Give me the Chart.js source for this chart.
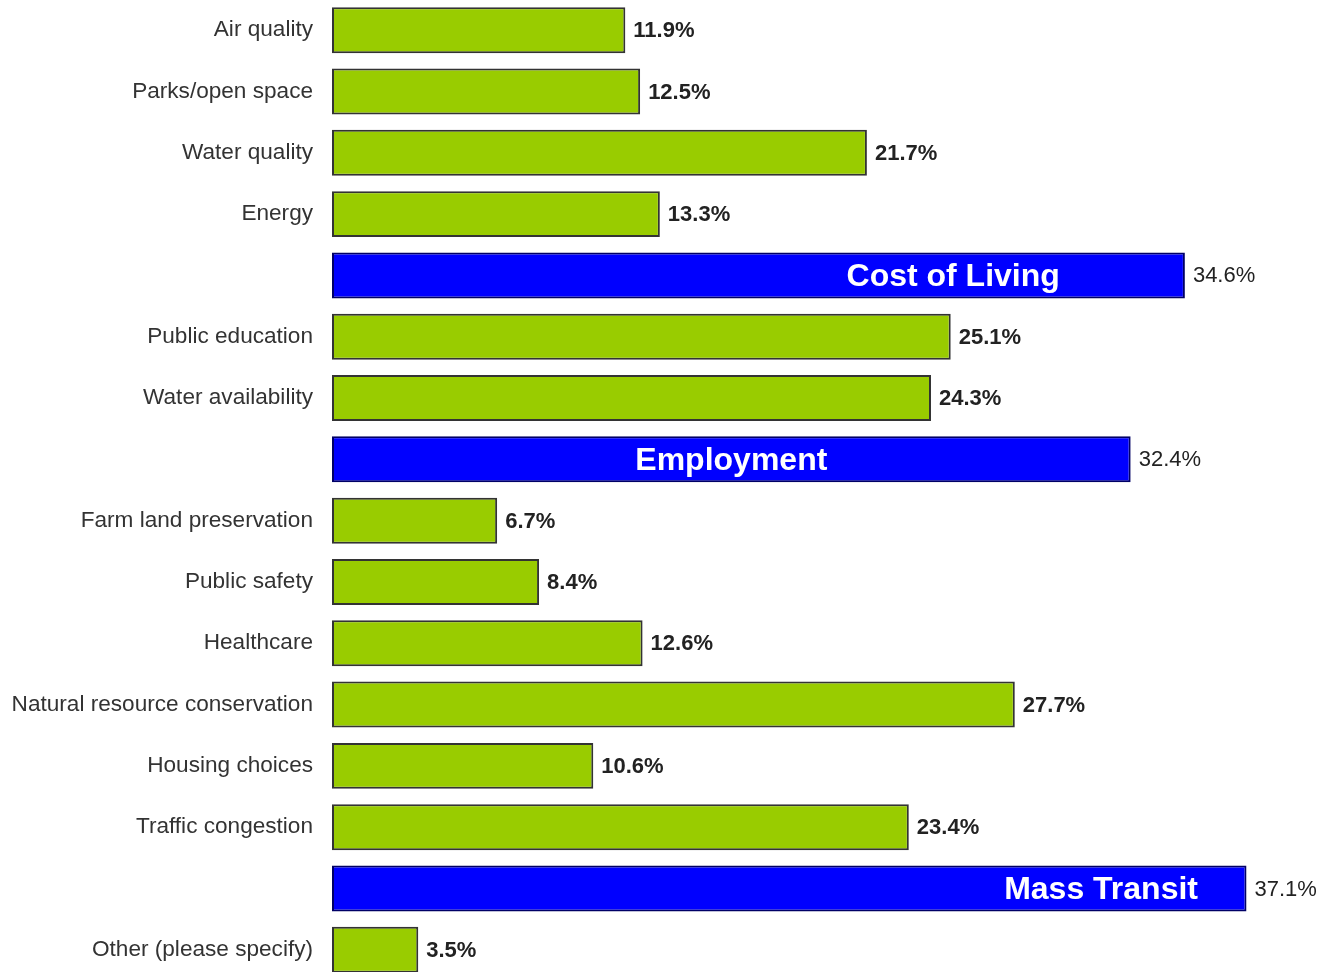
<!DOCTYPE html>
<html>
<head>
<meta charset="utf-8">
<script src="https://cdn.jsdelivr.net/npm/chart.js@4"></script>
<style>
  html, body { margin: 0; padding: 0; background: #fff; overflow: hidden; }
  #wrap { position: absolute; left: 0; top: -33px; width: 1325px; height: 1046px; }
</style>
</head>
<body>
<div id="wrap"><canvas id="barChart" width="1325" height="1046"></canvas></div>
<script>
// Survey categories, top to bottom
const categories = [
    'Air quality', 'Parks/open space', 'Water quality', 'Energy', 'Cost of Living',
    'Public education', 'Water availability', 'Employment', 'Farm land preservation',
    'Public safety', 'Healthcare', 'Natural resource conservation', 'Housing choices',
    'Traffic congestion', 'Mass Transit', 'Other (please specify)'
];
const percentages = [11.9, 12.5, 21.7, 13.3, 34.6, 25.1, 24.3, 32.4, 6.7, 8.4, 12.6, 27.7, 10.6, 23.4, 37.1, 3.5];
// the three highlighted (blue) items
const highlighted = ['Cost of Living', 'Employment', 'Mass Transit'];

const isHi = (i) => highlighted.includes(categories[i]);

// where the white name sits inside each blue bar (in % units on the x scale)
const innerLabelCenter = { 'Cost of Living': 25.2, 'Employment': 16.2, 'Mass Transit': 31.2 };

const barLabels = {
    id: 'barLabels',
    afterDatasetsDraw(chart) {
        const ctx = chart.ctx;
        const meta = chart.getDatasetMeta(0);
        const xScale = chart.scales.x;
        ctx.save();
        ctx.textBaseline = 'middle';
        meta.data.forEach((bar, i) => {
            const hi = isHi(i);
            // value at bar end
            ctx.textAlign = 'left';
            ctx.fillStyle = '#222';
            ctx.font = (hi ? 'normal ' : 'bold ') + '22px "Liberation Sans", Arial, sans-serif';
            ctx.fillText(percentages[i].toFixed(1) + '%', bar.x + 8, bar.y + 1);
            // name inside the blue bars
            if (hi) {
                ctx.textAlign = 'center';
                ctx.fillStyle = '#fff';
                ctx.font = 'bold 32px "Liberation Sans", Arial, sans-serif';
                ctx.fillText(categories[i], xScale.getPixelForValue(innerLabelCenter[categories[i]]), bar.y + 2);
            }
        });
        ctx.restore();
    }
};

const ctx = document.getElementById('barChart').getContext('2d');
const chart = new Chart(ctx, {
    type: 'bar',
    data: {
        labels: categories,
        datasets: [{
            data: percentages,
            backgroundColor: categories.map((c, i) => isHi(i) ? '#0000ff' : '#99cc00'),
            borderColor: categories.map((c, i) => isHi(i) ? '#000066' : '#333333'),
            borderWidth: 2,
            borderSkipped: false,
            categoryPercentage: 1.0,
            barPercentage: 0.75
        }]
    },
    options: {
        indexAxis: 'y',
        responsive: false,
        animation: false,
        devicePixelRatio: 1,
        layout: { padding: { left: 0, right: 7, top: 0, bottom: 0 } },
        plugins: {
            legend: { display: false },
            tooltip: { enabled: false }
        },
        scales: {
            x: {
                display: false,
                min: 0,
                max: 40
            },
            y: {
                grid: { display: false, drawTicks: false },
                border: { display: false },
                afterFit(scale) { scale.width = 332; },
                ticks: {
                    padding: 19,
                    color: '#333',
                    font: { family: '"Liberation Sans", Arial, sans-serif', size: 22.6 },
                    callback: function (value, index) {
                        return isHi(index) ? '' : categories[index];
                    }
                }
            }
        }
    },
    plugins: [barLabels]
});
</script>
</body>
</html>
